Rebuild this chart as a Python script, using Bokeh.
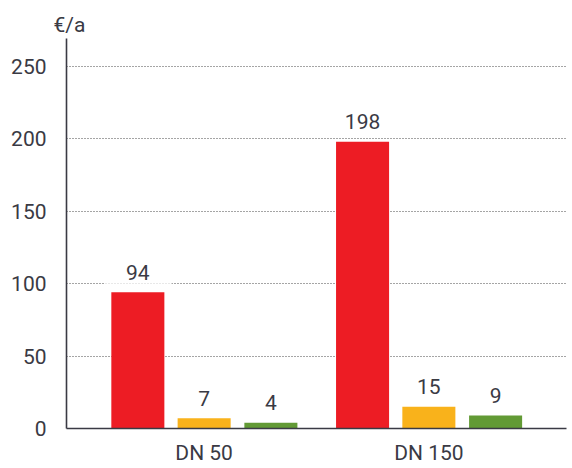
from bokeh.plotting import figure
from bokeh.models import FactorRange, Range1d, ColumnDataSource
from bokeh.transform import dodge
from bokeh.core.properties import value
from bokeh.embed import file_html
from bokeh.resources import INLINE

groups = ["DN 50", "DN 150"]
series_red = [94, 198]
series_orange = [7, 15]
series_green = [4, 9]
y_ticks = [0, 50, 100, 150, 200, 250]
unit_label = "€/a"

FONT = "Roboto"
FS = "21px"
TXT = "#3a3a44"
colors = ["#ED1C24", "#F9B21B", "#629A35"]
offsets = [-0.295, 0.0, 0.297]
bar_w = 0.236

src = ColumnDataSource(dict(
    group=groups,
    red=series_red, orange=series_orange, green=series_green,
    red_t=[str(v) for v in series_red],
    orange_t=[str(v) for v in series_orange],
    green_t=[str(v) for v in series_green],
))

p = figure(
    frame_width=500, frame_height=390,
    x_range=FactorRange(*groups, range_padding=0.1125, range_padding_units="absolute"),
    y_range=Range1d(0, 269.3),
    output_backend="svg", toolbar_location=None,
    min_border_left=66, min_border_right=6, min_border_top=38, min_border_bottom=40,
)
p.outline_line_color = None
p.background_fill_color = "white"
p.border_fill_color = "white"

for key, col, off in zip(["red", "orange", "green"], colors, offsets):
    xs = dodge("group", off, range=p.x_range)
    p.vbar(x=xs, top=key, width=bar_w, source=src, fill_color=col, line_color=None)
    p.text(x=xs, y=key, text=key + "_t", source=src,
           text_font=value(FONT), text_font_size=FS, text_color=TXT,
           text_align="center", text_baseline="alphabetic", y_offset=-20,
           background_fill_color="white", padding=(22, 4))

p.xgrid.visible = False
p.ygrid.grid_line_color = "#4a4a4a"
p.ygrid.grid_line_dash = "1 2"
p.ygrid.grid_line_width = 1

p.yaxis.ticker = y_ticks
for ax in (p.xaxis, p.yaxis):
    ax.major_tick_line_color = None
    ax.minor_tick_line_color = None
    ax.major_tick_out = 0
    ax.major_tick_in = 0
    ax.minor_tick_out = 0
    ax.axis_line_color = TXT
    ax.axis_line_width = 1.6
    ax.major_label_text_font = FONT
    ax.major_label_text_color = TXT
    ax.major_label_text_font_size = FS
p.yaxis.major_label_standoff = 20
p.xaxis.major_label_standoff = 12

p.title.text = unit_label
p.title.align = "left"
p.title.offset = -13
p.title.text_font = FONT
p.title.text_font_size = FS
p.title.text_font_style = "normal"
p.title.text_color = TXT
p.title.standoff = 4

open("out.html", "w").write(file_html(p, INLINE))
